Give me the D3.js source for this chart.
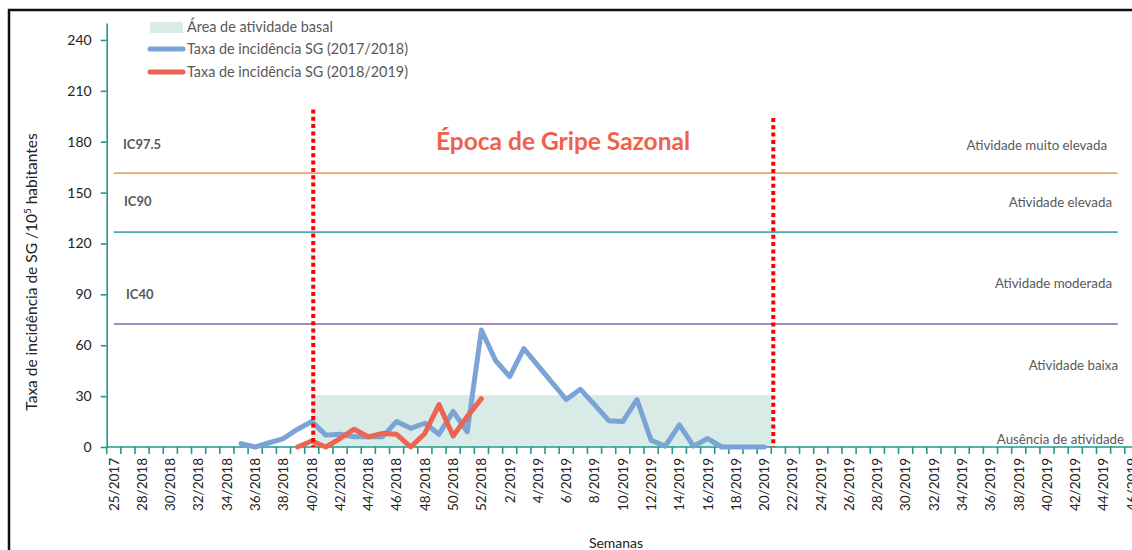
<!DOCTYPE html>
<html>
<head>
<meta charset="utf-8">
<script src="https://cdn.jsdelivr.net/npm/d3@7"></script>
<style>
  body { margin: 0; background: #fff; }
  svg { display: block; font-family: Lato, "Open Sans", sans-serif; }
</style>
</head>
<body>
<div id="chart"></div>
<script>
// weeks on the category axis (only every other one gets a label)
var weeks = [
  '25/2017', '27/2018', '28/2018', '29/2018', '30/2018', '31/2018', '32/2018', '33/2018',
  '34/2018', '35/2018', '36/2018', '37/2018', '38/2018', '39/2018', '40/2018', '41/2018',
  '42/2018', '43/2018', '44/2018', '45/2018', '46/2018', '47/2018', '48/2018', '49/2018',
  '50/2018', '51/2018', '52/2018', '1/2019', '2/2019', '3/2019', '4/2019', '5/2019',
  '6/2019', '7/2019', '8/2019', '9/2019', '10/2019', '11/2019', '12/2019', '13/2019',
  '14/2019', '15/2019', '16/2019', '17/2019', '18/2019', '19/2019', '20/2019', '21/2019',
  '22/2019', '23/2019', '24/2019', '25/2019', '26/2019', '27/2019', '28/2019', '29/2019',
  '30/2019', '31/2019', '32/2019', '33/2019', '34/2019', '35/2019', '36/2019', '37/2019',
  '38/2019', '39/2019', '40/2019', '41/2019', '42/2019', '43/2019', '44/2019', '45/2019',
  '46/2019'
];

// taxa de incidencia 2017/2018, from week 35/2018 to 20/2019
var season1718Weeks = weeks.slice(9, 47);
var season1718 = [
  2, 0, 2.5, 5, 10.5, 15, 7, 7.5, 6, 6,
  6, 15, 11, 14, 7.5, 21, 9, 69, 51, 41.5,
  58, 48, 38, 28, 34, 25, 15.5, 15, 28, 4,
  0.5, 13, 0.5, 5, 0, 0, 0, 0
];

// taxa de incidencia 2018/2019, from week 39/2018 to 52/2018
var season1819Weeks = weeks.slice(13, 27);
var season1819 = [0, 3.5, 0, 5, 10.5, 6, 8, 7.5, 0, 8, 25, 6.5, 18, 28.5];

var yTicks = [0, 30, 60, 90, 120, 150, 180, 210, 240];

var thresholds = [
  {name : 'IC97.5', value : 161.5, color : '#efa466'},
  {name : 'IC90', value : 126.7, color : '#4ba6c4'},
  {name : 'IC40', value : 72.5, color : '#8064a6'}
];
var thresholdFrom = '25/2017';
var thresholdTo = '45/2019';

var activityLabels = [
  'Atividade muito elevada', 'Atividade elevada', 'Atividade moderada',
  'Atividade baixa', 'Ausência de atividade'
];

var basalFrom = '40/2018';
var basalTo = '20/2019';
var basalTop = 30.6;

// red dotted lines marking the flu season
var seasonStart = '40/2018';
var seasonEnd = '20/2019';
var seasonLineTops = [199, 194];

var blue = '#7ba3d5';
var red = '#ec6453';
var teal = '#1f9a8a';
var gray = '#595959';

var width = 1132;
var height = 550;

var svg = d3.select('#chart')
            .append('svg')
            .attr('width', width)
            .attr('height', height);

var x = d3.scaleBand()
          .domain(weeks)
          .range([106.7, 106.7 + 14.14 * weeks.length]);
var bw = x.bandwidth();
var cx = w => x(w) + bw / 2;

var y = d3.scaleLinear()
          .domain([0, 250])
          .range([447, 23]);

// outer frame
svg.append('rect')
   .attr('x', 9).attr('y', 10)
   .attr('width', 1300).attr('height', 700)
   .attr('fill', 'none')
   .attr('stroke', '#111')
   .attr('stroke-width', 2.5);

// basal activity area
svg.append('rect')
   .attr('x', cx(basalFrom))
   .attr('y', y(basalTop))
   .attr('width', x(basalTo) + bw - cx(basalFrom))
   .attr('height', y(0) - y(basalTop))
   .attr('fill', '#d9ebe7');

// threshold lines
svg.selectAll('.threshold')
   .data(thresholds)
   .enter()
   .append('line')
   .attr('class', 'threshold')
   .attr('x1', cx(thresholdFrom))
   .attr('x2', cx(thresholdTo))
   .attr('y1', d => y(d.value))
   .attr('y2', d => y(d.value))
   .attr('stroke', d => d.color)
   .attr('stroke-width', 1.6);

// y axis
var yAxis = svg.append('g')
               .attr('transform', 'translate(106.7,0)')
               .call(d3.axisLeft(y).tickValues(yTicks).tickSize(6).tickSizeOuter(0).tickPadding(9));
yAxis.select('.domain').attr('stroke', teal).attr('stroke-width', 1.6);
yAxis.selectAll('.tick line').attr('stroke', teal).attr('stroke-width', 1.6);
yAxis.selectAll('.tick text')
     .attr('font-size', 14)
     .attr('font-family', 'Lato, sans-serif')
     .attr('fill', '#222');

// x axis (drawn by hand: ticks between weeks, labels every other week)
var xAxis = svg.append('g');
xAxis.append('line')
     .attr('x1', x.range()[0]).attr('x2', x.range()[1])
     .attr('y1', y(0)).attr('y2', y(0))
     .attr('stroke', teal).attr('stroke-width', 1.6);
xAxis.selectAll('.xtick')
     .data(weeks)
     .enter()
     .append('line')
     .attr('class', 'xtick')
     .attr('x1', d => x(d)).attr('x2', d => x(d))
     .attr('y1', y(0)).attr('y2', y(0) + 7)
     .attr('stroke', teal).attr('stroke-width', 1.6);
xAxis.selectAll('.xlabel')
     .data(weeks.filter((d, i) => i % 2 === 0))
     .enter()
     .append('text')
     .attr('class', 'xlabel')
     .attr('transform', d => 'translate(' + cx(d) + ',' + (y(0) + 11) + ') rotate(-90)')
     .attr('text-anchor', 'end')
     .attr('dy', '0.36em')
     .attr('font-size', 13.5)
     .attr('fill', '#222')
     .text(d => d);

var line = d3.line()
             .x(d => cx(d.week))
             .y(d => y(d.value));

svg.append('path')
   .datum(season1718.map((v, i) => ({week : season1718Weeks[i], value : v})))
   .attr('d', line)
   .attr('fill', 'none')
   .attr('stroke', blue)
   .attr('stroke-width', 5)
   .attr('stroke-linejoin', 'round')
   .attr('stroke-linecap', 'round');

svg.append('path')
   .datum(season1819.map((v, i) => ({week : season1819Weeks[i], value : v})))
   .attr('d', line)
   .attr('fill', 'none')
   .attr('stroke', red)
   .attr('stroke-width', 5)
   .attr('stroke-linejoin', 'round')
   .attr('stroke-linecap', 'round');

// season boundaries
var seasonX = [cx(seasonStart) + 1.5, x(seasonEnd) + bw + 2];
svg.selectAll('.season')
   .data(seasonX)
   .enter()
   .append('line')
   .attr('class', 'season')
   .attr('x1', d => d).attr('x2', d => d)
   .attr('y1', (d, i) => y(seasonLineTops[i]))
   .attr('y2', y(0))
   .attr('stroke', '#ff0000')
   .attr('stroke-width', 4)
   .attr('stroke-dasharray', '4,3.3');

svg.append('text')
   .attr('x', 563).attr('y', 150)
   .attr('text-anchor', 'middle')
   .attr('font-size', 24.5)
   .attr('font-weight', 'bold')
   .attr('fill', '#f0614d')
   .text('Época de Gripe Sazonal');

// threshold names on the left
var icPos = [[123, 144], [124, 201], [126, 294]];
svg.selectAll('.ic')
   .data(thresholds)
   .enter()
   .append('text')
   .attr('class', 'ic')
   .attr('x', (d, i) => icPos[i][0])
   .attr('y', (d, i) => icPos[i][1])
   .attr('dy', '0.35em')
   .attr('font-size', 13)
   .attr('font-weight', 'bold')
   .attr('fill', gray)
   .text(d => d.name);

// activity levels on the right
var actPos = [[1107, 145], [1112, 202], [1112, 283], [1118, 365], [1124, 439]];
svg.selectAll('.act')
   .data(activityLabels)
   .enter()
   .append('text')
   .attr('class', 'act')
   .attr('x', (d, i) => actPos[i][0])
   .attr('y', (d, i) => actPos[i][1])
   .attr('dy', '0.35em')
   .attr('text-anchor', 'end')
   .attr('font-size', 13.3)
   .attr('fill', gray)
   .text(d => d);

// axis titles
var yTitle = svg.append('text')
                .attr('transform', 'translate(32,272) rotate(-90)')
                .attr('text-anchor', 'middle')
                .attr('dy', '0.35em')
                .attr('font-size', 15.5)
                .attr('fill', '#222');
yTitle.append('tspan').text('Taxa de incidência de SG /10');
yTitle.append('tspan').attr('baseline-shift', 'super').attr('font-size', 10).text('5');
yTitle.append('tspan').text(' habitantes');

svg.append('text')
   .attr('x', 616).attr('y', 548)
   .attr('text-anchor', 'middle')
   .attr('font-size', 14)
   .attr('fill', '#222')
   .text('Semanas');

// legend
var legend = svg.append('g').attr('font-size', 14.4).attr('fill', gray);
legend.append('rect')
      .attr('x', 150).attr('y', 22)
      .attr('width', 33).attr('height', 11)
      .attr('fill', '#d9ebe7');
legend.append('text').attr('x', 187).attr('y', 27).attr('dy', '0.35em')
      .text('Área de atividade basal');
[[blue, 49, 'Taxa de incidência SG (2017/2018)'], [red, 72, 'Taxa de incidência SG (2018/2019)']]
  .forEach(function(l) {
    legend.append('line')
          .attr('x1', 150).attr('x2', 183)
          .attr('y1', l[1]).attr('y2', l[1])
          .attr('stroke', l[0])
          .attr('stroke-width', 5)
          .attr('stroke-linecap', 'round');
    legend.append('text').attr('x', 187).attr('y', l[1]).attr('dy', '0.35em')
          .text(l[2]);
  });
</script>
</body>
</html>
